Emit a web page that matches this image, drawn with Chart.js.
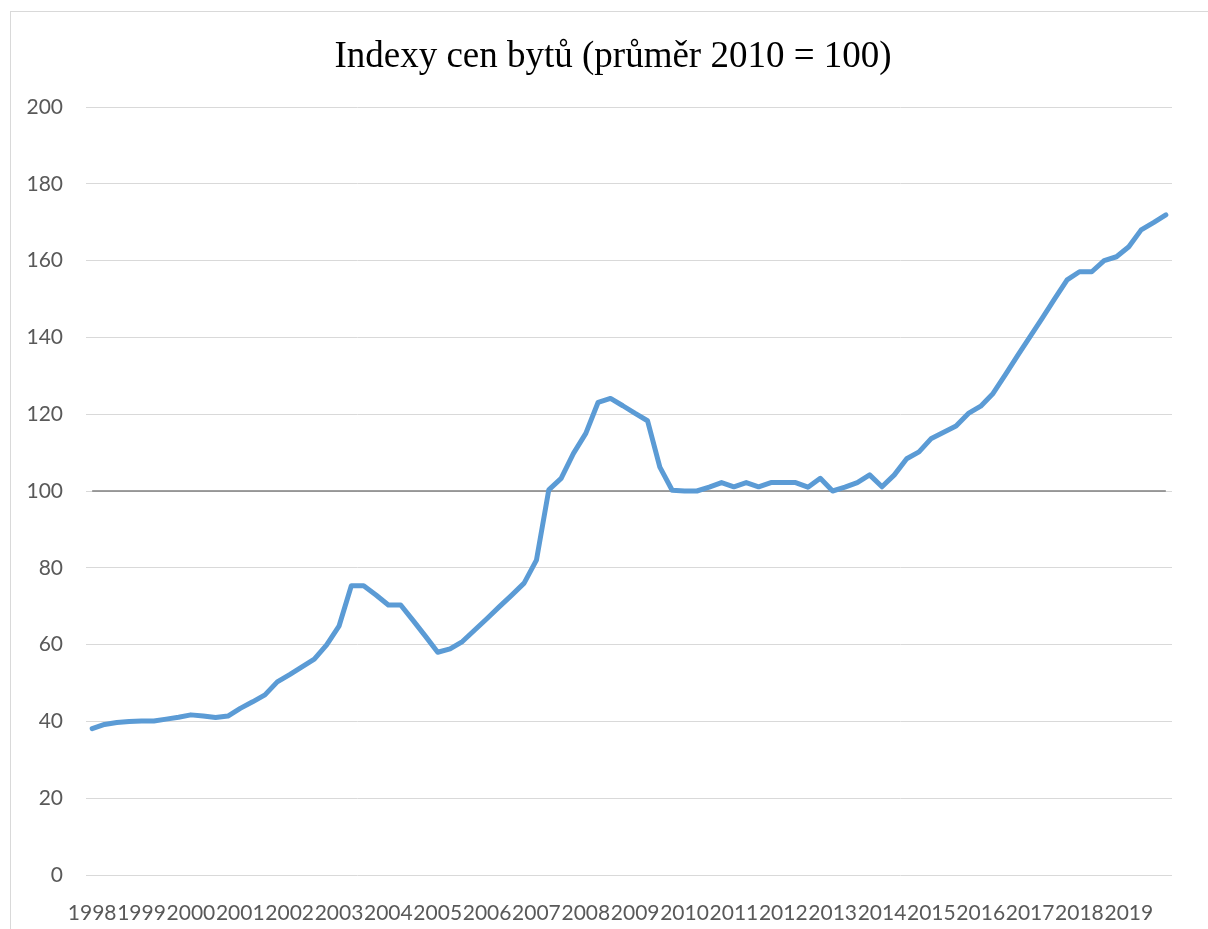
<!DOCTYPE html>
<html>
<head>
<meta charset="utf-8">
<script src="https://cdn.jsdelivr.net/npm/chart.js@4/dist/chart.umd.min.js"></script>
<style>
    html, body { margin: 0; padding: 0; background: #FFFFFF; overflow: hidden; }
    #marco {
        position: absolute; left: 10px; top: 11px;
        width: 1400px; height: 1100px;
        border: 1px solid #D9D9D9;
    }
    #contenedor { position: absolute; left: 0; top: 0; width: 1208px; height: 929px; }
</style>
</head>
<body>
<div id="marco"></div>
<div id="contenedor"><canvas id="GraficoLinea"></canvas></div>
<script>
// --- Data ---
const roky = [1998, 1999, 2000, 2001, 2002, 2003, 2004, 2005, 2006, 2007, 2008,
              2009, 2010, 2011, 2012, 2013, 2014, 2015, 2016, 2017, 2018, 2019];
const ctvrtleti = ['Q1', 'Q2', 'Q3', 'Q4'];

// quarterly index, 1998 Q1 .. 2019 Q4
const indexCen = [
    38.1, 39.2, 39.7, 40.0,  40.1, 40.1, 40.6, 41.1,
    41.7, 41.4, 41.0, 41.4,  43.4, 45.1, 46.9, 50.3,
    52.2, 54.2, 56.2, 59.9,  64.8, 75.3, 75.3, 72.9,
    70.3, 70.3, 66.3, 62.2,  58.0, 58.9, 60.8, 63.8,
    66.8, 69.9, 72.9, 76.0,  82.0, 100.3, 103.3, 109.8,
    115.0, 123.1, 124.1, 122.2,  120.2, 118.3, 106.2, 100.2,
    100.0, 100.0, 101.0, 102.2,  101.1, 102.2, 101.1, 102.2,
    102.2, 102.2, 101.0, 103.3,  100.0, 101.0, 102.2, 104.2,
    101.1, 104.2, 108.4, 110.2,  113.7, 115.3, 116.9, 120.2,
    122.1, 125.4, 130.3, 135.3,  140.2, 145.1, 150.1, 155.0,
    157.1, 157.1, 160.0, 161.0,  163.6, 168.0, 169.9, 171.9
];

const yTicks = [0, 20, 40, 60, 80, 100, 120, 140, 160, 180, 200];
const titulek = 'Indexy cen bytů (průměr 2010 = 100)';

// category labels
const kategorie = [];
for (const rok of roky) {
    for (const q of ctvrtleti) {
        kategorie.push(rok + ' ' + q);
    }
}

// reference line at 2010 average
const zaklad = kategorie.map(() => 100);

// title drawn over the whole chart frame (Excel centres it on the frame, not the plot)
const titulekPlugin = {
    id: 'titulekPlugin',
    afterDraw(chart) {
        const c = chart.ctx;
        c.save();
        c.font = '37px "Liberation Serif", "Times New Roman", serif';
        c.fillStyle = '#000000';
        c.textAlign = 'center';
        c.textBaseline = 'middle';
        c.fillText(titulek, 613, 57);
        c.restore();
    }
};

// --- Chart ---
const ctx = document.getElementById('GraficoLinea').getContext('2d');

const myChart = new Chart(ctx, {
    type: 'line',
    data: {
        labels: kategorie,
        datasets: [
            {
                label: 'Index',
                data: indexCen,
                borderColor: '#5B9BD5',
                borderWidth: 5,
                borderCapStyle: 'round',
                borderJoinStyle: 'round',
                pointRadius: 0,
                tension: 0,
                order: 1
            },
            {
                label: '2010 = 100',
                data: zaklad,
                borderColor: '#7F7F7F',
                borderWidth: 1.5,
                pointRadius: 0,
                order: 2
            }
        ]
    },
    plugins: [titulekPlugin],
    options: {
        responsive: true,
        maintainAspectRatio: false,
        animation: false,
        layout: {
            padding: { left: 0, right: 36, top: 107, bottom: 0 }
        },
        plugins: {
            legend: { display: false },
            tooltip: { enabled: false },
            title: { display: false }
        },
        scales: {
            x: {
                offset: true,
                grid: { display: false },
                border: { display: false },
                ticks: {
                    autoSkip: false,
                    maxRotation: 0,
                    minRotation: 0,
                    padding: 18,
                    color: '#595959',
                    font: { family: 'Lato, Carlito, sans-serif', size: 21 },
                    callback: function(value, index) {
                        return index % 4 === 0 ? roky[index / 4] : '';
                    }
                },
                afterFit: function(scale) {
                    scale.height = 54;
                }
            },
            y: {
                min: 0,
                max: 200,
                afterBuildTicks: function(scale) {
                    scale.ticks = yTicks.map(v => ({ value: v }));
                },
                grid: {
                    color: '#D9D9D9',
                    lineWidth: 1,
                    drawTicks: false
                },
                border: { display: false },
                ticks: {
                    padding: 23,
                    color: '#595959',
                    font: { family: 'Lato, Carlito, sans-serif', size: 21 }
                },
                afterFit: function(scale) {
                    scale.width = 86;
                }
            }
        }
    }
});
</script>
</body>
</html>
